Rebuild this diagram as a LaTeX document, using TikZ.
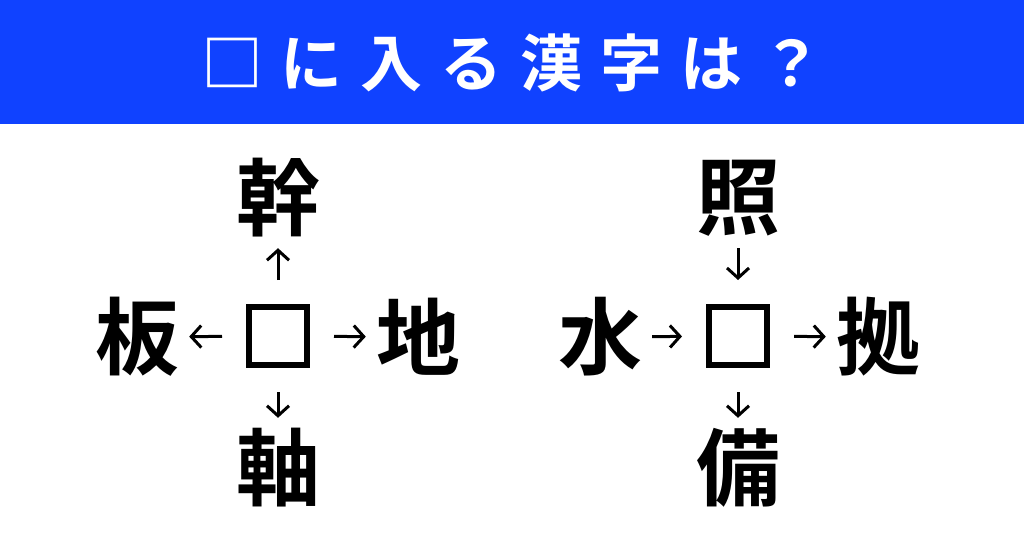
\documentclass[tikz,border=0pt]{standalone}
\usepackage{fontspec}
\newfontfamily\jp{Noto Sans CJK JP}[BoldFont={Noto Sans CJK JP Bold}]
\usetikzlibrary{arrows.meta}
\definecolor{hdrblue}{RGB}{16,66,255}
\tikzset{
  kanji/.style={font=\jp\bfseries\fontsize{84}{84}\selectfont, inner sep=0pt, minimum size=80pt},
  blank/.style={draw, line width=6pt, minimum size=58pt, inner sep=0pt},
  arr/.style={line width=3pt, -{Straight Barb[length=10pt,width=22pt,line width=3pt]}},
  outarrow/.style={arr, shorten <=24pt, shorten >=10pt},
  inarrow/.style={arr, shorten <=10pt, shorten >=24pt},
}
\begin{document}
\begin{tikzpicture}[x=1pt,y=-1pt]
\useasboundingbox (0,0) rectangle (1024,538);
\fill[white] (0,0) rectangle (1024,538);
\fill[hdrblue] (0,0) rectangle (1024,124);
\node[text=white, font=\jp\bfseries\fontsize{62}{62}\selectfont, inner sep=0pt] (title) at (512,63)
  {□\hspace{18pt}に\hspace{18pt}入\hspace{18pt}る\hspace{18pt}漢\hspace{18pt}字\hspace{18pt}は\hspace{18pt}？};
% left puzzle
\node[blank] (b1) at (278,336) {};
\node[kanji] (t1) at (278,198) {幹};
\node[kanji] (l1) at (137,337) {板};
\node[kanji] (r1) at (418,337) {地};
\node[kanji] (d1) at (278,468) {軸};
\draw[outarrow] (b1) -- (t1);
\draw[outarrow] (b1) -- (l1);
\draw[outarrow] (b1) -- (r1);
\draw[outarrow] (b1) -- (d1);
% right puzzle
\node[blank] (b2) at (738,336) {};
\node[kanji] (t2) at (738,198) {照};
\node[kanji] (l2) at (600,337) {水};
\node[kanji] (r2) at (878,337) {拠};
\node[kanji] (d2) at (738,468) {備};
\draw[inarrow] (t2) -- (b2);
\draw[inarrow] (l2) -- (b2);
\draw[outarrow] (b2) -- (r2);
\draw[outarrow] (b2) -- (d2);
\end{tikzpicture}
\end{document}
